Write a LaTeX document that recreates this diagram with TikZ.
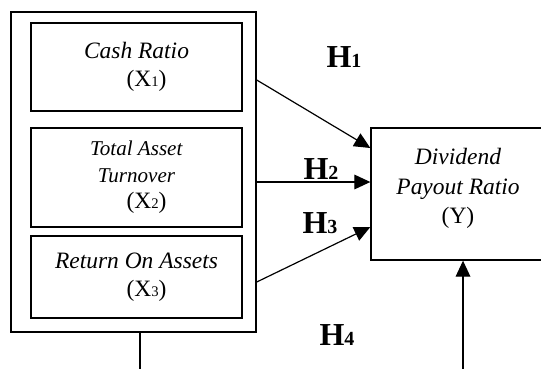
\documentclass[tikz,border=0pt]{standalone}
\usepackage{fontspec}
\setmainfont{Liberation Serif}
\usetikzlibrary{arrows.meta}

\newcommand{\hnum}[1]{{\fontsize{15}{15}\selectfont #1}}
\newcommand{\xnum}[1]{{\fontsize{11}{11}\selectfont #1}}

\begin{document}
\begin{tikzpicture}[x=0.75pt, y=-0.75pt]
\tikzstyle{groupbox} = [draw, line width=1.1pt, minimum width=183.75pt, minimum height=240pt, inner sep=0pt]
\tikzstyle{varbox} = [draw, line width=1.4pt, minimum width=158.25pt, align=center, inner sep=0pt, font=\fontsize{17.6}{21}\selectfont]
\tikzstyle{depbox} = [draw, line width=1pt, minimum width=130.5pt, minimum height=99pt, align=center, inner sep=0pt, font=\fontsize{17.6}{22}\selectfont]
\tikzstyle{hyp} = [inner sep=0pt, font=\fontsize{24}{24}\selectfont\bfseries]
\tikzstyle{link} = [line width=0.9pt, -{Triangle[length=12pt,width=11pt]}]

\useasboundingbox (0,0) rectangle (541,368);
\clip (0,0) rectangle (541,368);

\node[groupbox] (group) at (133.5,172) {};
\node[varbox, minimum height=66pt] (cash) at (136.5,67)
    {\textit{Cash Ratio}\\ \hspace*{15pt}(X\xnum{1})};
\node[varbox, minimum height=74.25pt, font=\fontsize{15.8}{20}\selectfont] (tato) at (136.5,177.5)
    {\textit{Total Asset}\\ \textit{Turnover}\\ \hspace*{15pt}\fontsize{17.6}{21}\selectfont(X\xnum{2})};
\node[varbox, minimum height=61.5pt] (roa) at (136.5,277)
    {\textit{Return On Assets}\\ \hspace*{15pt}(X\xnum{3})};

\node[depbox] (dpr) at (458,194)
    {\textit{Dividend}\\ \textit{Payout Ratio}\\ (Y)\\[-10pt]\mbox{}};

\node[hyp] (h1) at (344,57) {H\hnum{1}};
\node[hyp] (h2) at (321,169) {H\hnum{2}};
\node[hyp] (h3) at (320,223) {H\hnum{3}};
\node[hyp] (h4) at (337,335) {H\hnum{4}};

\draw[link] ([yshift=69pt]group.east) -- ([yshift=34.5pt]dpr.west);
\draw[link] ([yshift=-7.5pt]group.east) -- ([yshift=-7.5pt]group.east -| dpr.west);
\draw[link] ([yshift=-82.5pt]group.east) -- ([yshift=-24.75pt]dpr.west);

\coordinate (gfoot) at (140,380);
\coordinate (yfoot) at (463,380);
\draw[line width=1.1pt] (group.south -| gfoot) -- (gfoot);
\draw[link] (yfoot) -- (yfoot |- dpr.south);
\end{tikzpicture}
\end{document}
